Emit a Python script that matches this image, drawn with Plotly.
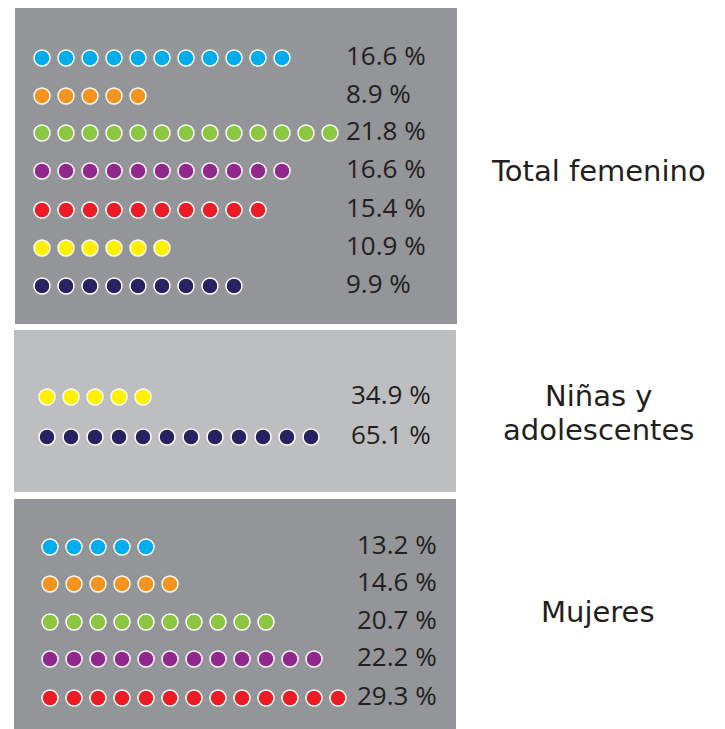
import plotly.graph_objects as go

# ---- data ----
sections = [["Total femenino"], ["Niñas y", "adolescentes"], ["Mujeres"]]

total_colors = ["#00aeef", "#f7941d", "#8dc63f", "#92278f", "#ed1c24", "#fff200", "#262262"]
total_dots = [11, 5, 13, 11, 10, 6, 9]
total_pct = ["16.6 %", "8.9 %", "21.8 %", "16.6 %", "15.4 %", "10.9 %", "9.9 %"]

ninas_colors = ["#fff200", "#262262"]
ninas_dots = [5, 12]
ninas_pct = ["34.9 %", "65.1 %"]

mujeres_colors = ["#00aeef", "#f7941d", "#8dc63f", "#92278f", "#ed1c24"]
mujeres_dots = [5, 6, 10, 12, 13]
mujeres_pct = ["13.2 %", "14.6 %", "20.7 %", "22.2 %", "29.3 %"]

# ---- layout constants ----
W, H = 725, 729
OFF = 8  # page body margin
panels = [
    dict(x0=15, x1=457, y0=8, y1=324, bg="#939598", dx=42, ys=[58, 96, 133, 171, 210, 248, 286], tx=346,
         colors=total_colors, dots=total_dots, pct=total_pct, label_ys=[171]),
    dict(x0=14, x1=456, y0=330, y1=492, bg="#bcbec0", dx=47, ys=[397, 437], tx=351,
         colors=ninas_colors, dots=ninas_dots, pct=ninas_pct, label_ys=[396, 430]),
    dict(x0=14, x1=456, y0=499, y1=740, bg="#939598", dx=50, ys=[547, 584, 622, 659, 698], tx=357,
         colors=mujeres_colors, dots=mujeres_dots, pct=mujeres_pct, label_ys=[612]),
]
SPACING = 24

fig = go.Figure()
shapes = []
for p, sec in zip(panels, sections):
    shapes.append(dict(type="rect", xref="x", yref="y", x0=p["x0"], x1=p["x1"], y0=p["y0"], y1=p["y1"],
                       fillcolor=p["bg"], line=dict(width=0), layer="below"))
    for col, n, y, pct in zip(p["colors"], p["dots"], p["ys"], p["pct"]):
        fig.add_trace(go.Scatter(
            x=[p["dx"] + i * SPACING for i in range(n)], y=[y] * n, mode="markers",
            marker=dict(size=16, color=col, line=dict(color="white", width=1.5)),
            hoverinfo="skip", showlegend=False, cliponaxis=False))
        fig.add_trace(go.Scatter(
            x=[p["tx"]], y=[y], mode="text", text=[pct], textposition="middle right",
            textfont=dict(family="Open Sans", size=26, color="#231f20"),
            hoverinfo="skip", showlegend=False, cliponaxis=False))
    for line, ly in zip(sec, p["label_ys"]):
        fig.add_annotation(x=598, y=ly, xref="x", yref="y", text=line, showarrow=False,
                           font=dict(family="DejaVu Sans", size=29, color="#231f20"), align="center")

fig.update_layout(
    width=W - OFF, height=H - OFF, margin=dict(l=0, r=0, t=0, b=0),
    paper_bgcolor="white", plot_bgcolor="white", shapes=shapes,
    xaxis=dict(range=[OFF, W], visible=False, fixedrange=True),
    yaxis=dict(range=[H, OFF], visible=False, fixedrange=True),
)
fig.write_html("out.html")
